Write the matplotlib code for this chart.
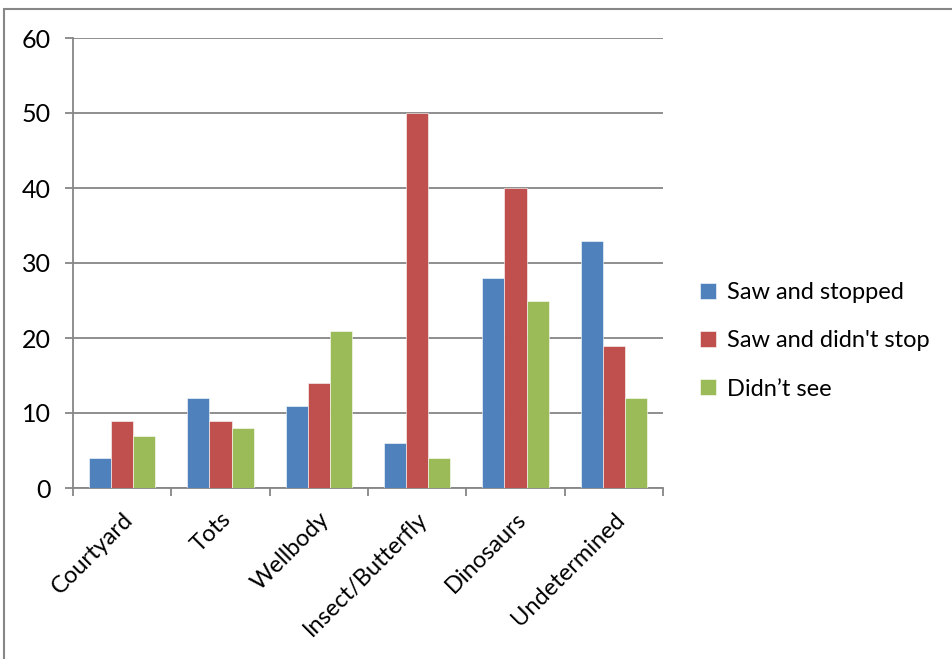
import matplotlib
matplotlib.use("Agg")
import matplotlib.pyplot as plt
import numpy as np
from matplotlib.patches import Rectangle

categories = ["Courtyard", "Tots", "Wellbody", "Insect/Butterfly", "Dinosaurs", "Undetermined"]
saw_and_stopped = [4, 12, 11, 6, 28, 33]
saw_didnt_stop = [9, 9, 14, 50, 40, 19]
didnt_see = [7, 8, 21, 4, 25, 12]
series_names = ["Saw and stopped", "Saw and didn't stop", "Didn\u2019t see"]
colors = ["#4F81BD", "#C0504D", "#9BBB59"]
y_ticks = [0, 10, 20, 30, 40, 50, 60]

plt.rcParams['font.family'] = ['Lato', 'DejaVu Sans']
FS = 17

W, H = 952, 659
fig = plt.figure(figsize=(W / 100, H / 100), dpi=100)
ax = fig.add_axes([73 / W, 1 - 488 / H, (663 - 73) / W, (488 - 38) / H])

x = np.arange(len(categories))
bw = 0.224
for k, (vals, name, col) in enumerate(zip([saw_and_stopped, saw_didnt_stop, didnt_see], series_names, colors)):
    ax.bar(x + (k - 1) * bw, vals, width=bw, color=col, label=name,
           edgecolor="white", linewidth=0.4, zorder=3)

ax.set_xlim(-0.5, len(categories) - 0.5)
ax.set_ylim(0, 60)
ax.set_yticks(y_ticks)
ax.set_yticklabels([str(v) for v in y_ticks], fontsize=18)
ax.yaxis.grid(True, color="#868686", linewidth=1.3, zorder=0)
ax.set_axisbelow(True)

for side in ["top", "right"]:
    ax.spines[side].set_visible(False)
for side in ["left", "bottom"]:
    ax.spines[side].set_color("#868686")
    ax.spines[side].set_linewidth(1.3)

ax.tick_params(axis="y", length=6, width=1.3, color="#868686", pad=10)

# category boundary ticks
ax.set_xticks(np.arange(-0.5, len(categories)), minor=True)
ax.tick_params(axis="x", which="minor", length=6, width=1.3, color="#868686")

# rotated category labels at the group centres
ax.set_xticks(x)
ax.set_xticklabels(categories, rotation=45, ha="right", va="top",
                   rotation_mode="anchor", fontsize=FS)
ax.tick_params(axis="x", which="major", length=0, pad=15)

# legend
leg = fig.legend(loc="upper left", bbox_to_anchor=(679 / W, 1 - 261 / H),
                 frameon=False, fontsize=FS, handlelength=0.68, handleheight=0.68,
                 handletextpad=0.45, labelspacing=1.15)

# outer chart frame
fig.patches.append(Rectangle((4 / W, -0.1), 1.2, 1.1 - 9 / H, transform=fig.transFigure,
                             fill=False, edgecolor="#878787", linewidth=1.5))

fig.savefig("out.png", dpi=100)
